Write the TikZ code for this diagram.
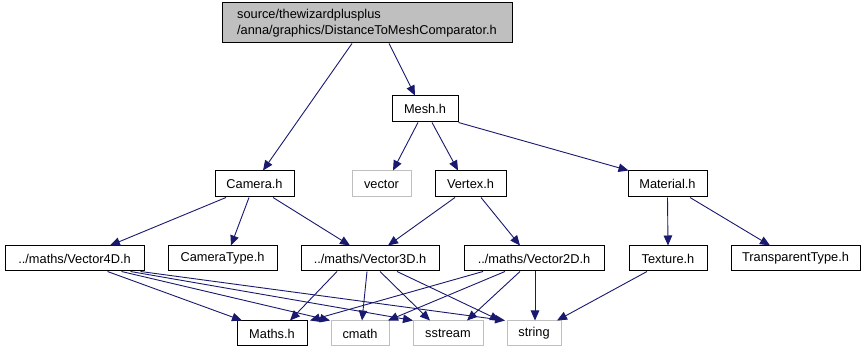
\documentclass[tikz,border=0pt]{standalone}
\usepackage{fontspec}
\setmainfont{Liberation Sans}
\usetikzlibrary{arrows.meta}
\definecolor{edgeblue}{HTML}{191970}
\definecolor{lightborder}{HTML}{BFBFBF}
\tikzset{
  hdr/.style={draw=black, line width=1pt, inner sep=0pt, anchor=center,
    font=\fontsize{12.8}{16}\selectfont},
  sysfile/.style={hdr, draw=lightborder},
  edge/.style={draw=edgeblue, line width=0.9pt, -{Triangle[length=10pt,width=8.5pt]}}
}
\begin{document}
\begin{tikzpicture}[x=1pt, y=-1pt]
  \fill[white] (0,0) rectangle (867,352);
  \useasboundingbox (0,0) rectangle (867,352);

  % header nodes
  \node[hdr, fill=lightborder, minimum width=290, minimum height=40, align=left] (top) at (367,23)
    {source/thewizardplusplus\\/anna/graphics/DistanceToMeshComparator.h};
  \node[hdr, minimum width=66, minimum height=26] (mesh) at (425,109) {Mesh.h};
  \node[sysfile, minimum width=59, minimum height=26] (vector) at (381.5,184) {vector};
  \node[hdr, minimum width=71, minimum height=26] (vertex) at (470.5,184) {Vertex.h};
  \node[hdr, minimum width=79, minimum height=26] (material) at (667.5,184) {Material.h};
  \node[hdr, minimum width=79, minimum height=26] (camera) at (254.5,184) {Camera.h};
  \node[hdr, minimum width=139, minimum height=25] (v4) at (74.5,258.5) {../maths/Vector4D.h};
  \node[hdr, minimum width=109, minimum height=25] (camtype) at (222.5,258.5) {CameraType.h};
  \node[hdr, minimum width=138, minimum height=25] (v3) at (370,258.5) {../maths/Vector3D.h};
  \node[hdr, minimum width=140, minimum height=25] (v2) at (534,258.5) {../maths/Vector2D.h};
  \node[hdr, minimum width=78, minimum height=25] (texture) at (668,258.5) {Texture.h};
  \node[hdr, minimum width=129, minimum height=25] (transp) at (795.5,258.5) {TransparentType.h};
  \node[hdr, minimum width=70, minimum height=25] (maths) at (272,333.5) {Maths.h};
  \node[sysfile, minimum width=58, minimum height=25] (cmath) at (360,333.5) {cmath};
  \node[sysfile, minimum width=70, minimum height=25] (sstream) at (448,333.5) {sstream};
  \node[sysfile, minimum width=54, minimum height=25] (string) at (534,333.5) {string};

  % include edges
  \draw[edge] ([xshift=-15]top.south) -- ([xshift=8.5]camera.north);
  \draw[edge] ([xshift=22]top.south) -- ([xshift=-10]mesh.north);
  \draw[edge] ([xshift=-7]mesh.south) -- ([xshift=11.5]vector.north);
  \draw[edge] ([xshift=7]mesh.south) -- ([xshift=-12.5]vertex.north);
  \draw[edge] (mesh.south east) -- ([xshift=1]material.north west);
  \draw[edge] ([xshift=-28.5]camera.south) -- ([xshift=35.5]v4.north);
  \draw[edge] ([xshift=-5.5]camera.south) -- ([xshift=8.5]camtype.north);
  \draw[edge] ([xshift=18.5]camera.south) -- ([xshift=-20]v3.north);
  \draw[edge] ([xshift=-15.5]vertex.south) -- ([xshift=18]v3.north);
  \draw[edge] ([xshift=10.5]vertex.south) -- ([xshift=-14]v2.north);
  \draw[edge] (material.south) -- (texture.north);
  \draw[edge] ([xshift=22.5]material.south) -- ([xshift=-25.5]transp.north);

  \draw[edge] ([xshift=33]v4.south) -- ([xshift=-30]maths.north);
  \draw[edge] ([xshift=47]v4.south) -- ([xshift=-30]cmath.north);
  \draw[edge] ([xshift=56]v4.south) -- ([xshift=-35]sstream.north);
  \draw[edge] ([xshift=66]v4.south) -- ([xshift=-29]string.north);

  \draw[edge] ([xshift=-33]v3.south) -- ([xshift=18]maths.north);
  \draw[edge] ([xshift=-3]v3.south) -- ([xshift=2]cmath.north);
  \draw[edge] ([xshift=10]v3.south) -- ([xshift=-18]sstream.north);
  \draw[edge] ([xshift=27]v3.south) -- ([xshift=-34]string.north);

  \draw[edge] ([xshift=-51]v2.south) -- ([xshift=38]maths.north);
  \draw[edge] ([xshift=-29]v2.south) -- ([xshift=28]cmath.north);
  \draw[edge] ([xshift=-14]v2.south) -- ([xshift=19]sstream.north);
  \draw[edge] ([xshift=1]v2.south) -- ([xshift=1]string.north);

  \draw[edge] ([xshift=-21]texture.south) -- ([xshift=23]string.north);
\end{tikzpicture}
\end{document}
